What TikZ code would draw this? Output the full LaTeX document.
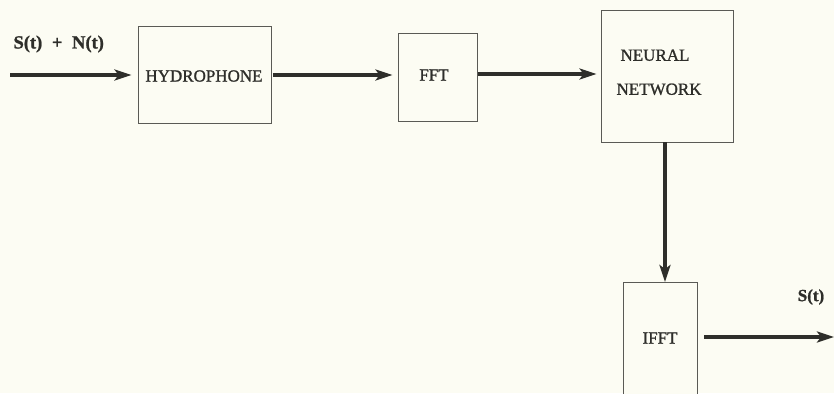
\documentclass[tikz,border=0pt]{standalone}
\usepackage{fontspec}
\setmainfont{Liberation Serif}
\newfontfamily\boxfont[FakeBold=1.2]{Liberation Serif}
\usetikzlibrary{arrows.meta}
\definecolor{paper}{HTML}{FCFCF3}
\definecolor{ink}{HTML}{2E2E2A}
\definecolor{frame}{HTML}{5A5A55}
\tikzset{
  block/.style={draw=frame, line width=0.9pt, fill=paper, inner sep=0pt},
  flow/.style={draw=ink, line width=3.6pt, -{Stealth[length=17pt, width=11pt, inset=4pt]}},
  lbl/.style={text=ink, font=\boxfont\fontsize{17}{19}\selectfont},
  sig/.style={text=ink, font=\boxfont\bfseries\fontsize{17}{19}\selectfont},
}
\begin{document}
\begin{tikzpicture}[x=1pt, y=-1pt]
  \fill[paper] (0,0) rectangle (834,393);
  \useasboundingbox (0,0) rectangle (834,393);

  % processing blocks
  \node[block, minimum width=133pt, minimum height=97pt] (hyd) at (204.5,74.5) {};
  \node[lbl] at (204,76) {HYDROPHONE};
  \node[block, minimum width=79pt, minimum height=88pt] (fft) at (437.5,77) {};
  \node[lbl] at (434,75) {FFT};
  \node[block, minimum width=132pt, minimum height=132pt] (nn) at (667,76) {};
  \node[lbl, align=left, anchor=north west] at (613,46) {\hspace*{4pt}NEURAL\\[15pt]NETWORK};
  \begin{scope}
    \clip (0,0) rectangle (834,393);
    \node[block, minimum width=74pt, minimum height=130pt] (ifft) at (660,347) {};
  \end{scope}
  \node[lbl] at (660,338) {IFFT};

  % free ends of the input and output lines
  \coordinate (in) at (10,75);
  \coordinate (out) at (834,337);
  \coordinate (ifftR) at (704,337);

  % signal flow
  \draw[flow] (in) -- ([xshift=-6pt]hyd.west |- in);
  \draw[flow] ([xshift=2pt]hyd.east |- 0,75) -- ([xshift=-5pt]fft.west |- 0,75);
  \draw[flow] ([xshift=1pt]fft.east |- 0,74) -- ([xshift=-4pt]nn.west |- 0,74);
  \draw[flow] (665,142) -- (665,282);
  \draw[flow] (ifftR) -- (out);

  % signal labels
  \node[sig, anchor=west, font=\boxfont\bfseries\fontsize{18.5}{20}\selectfont] (sn) at (10,44) {S(t)\hspace{5pt} + \hspace{5pt}N(t)};
  \node[sig] (st) at (811,297) {S(t)};
\end{tikzpicture}
\end{document}
